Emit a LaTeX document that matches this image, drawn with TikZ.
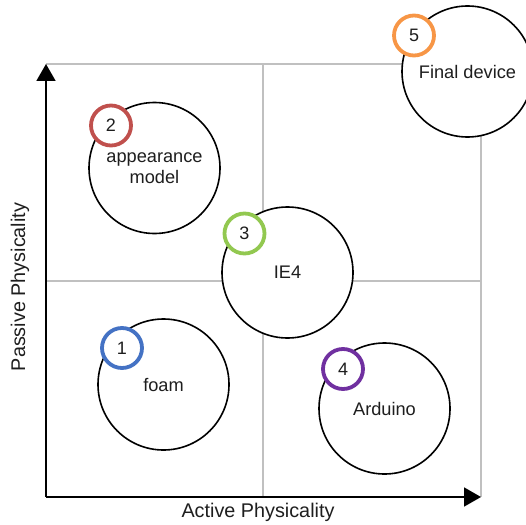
\documentclass[tikz,border=0pt]{standalone}
\usepackage{fontspec}
\setmainfont{Liberation Sans}
\usetikzlibrary{arrows.meta}
\definecolor{gridgray}{RGB}{192,192,192}
\definecolor{txt}{RGB}{30,30,30}
\definecolor{cblue}{RGB}{68,114,196}
\definecolor{cred}{RGB}{192,80,77}
\definecolor{cgreen}{RGB}{146,200,80}
\definecolor{cpurple}{RGB}{112,48,160}
\definecolor{corange}{RGB}{247,150,70}
\tikzset{
  bigc/.style={circle, draw=black, line width=1.6pt, fill=white, minimum size=131pt, inner sep=0pt, text=txt, font=\fontsize{18.2}{21}\selectfont, align=center},
  badge/.style={circle, draw=#1, line width=3.8pt, fill=white, minimum size=40pt, inner sep=0pt, text=txt, font=\fontsize{18}{20}\selectfont},
  gridln/.style={draw=gridgray, line width=1.5pt},
  axis/.style={draw=black, line width=1.8pt, -{Triangle[length=17pt,width=19pt]}},
  axlabel/.style={text=txt, font=\fontsize{19.8}{22}\selectfont, inner sep=0pt}
}
\begin{document}
\begin{tikzpicture}[x=1pt,y=-1pt]
\useasboundingbox (0,0) rectangle (526,524);
\coordinate (O) at (46,497);
\coordinate (Ytop) at (46,64);
\coordinate (Xend) at (481,497);
\coordinate (TR) at (481,64);
\coordinate (Mtop) at (263,64);
\coordinate (Mbot) at (263,497);
\coordinate (Mleft) at (46,281);
\coordinate (Mright) at (481,281);
% grid
\draw[gridln] (Ytop) -- (TR) -- (Xend);
\draw[gridln] (Mtop) -- (Mbot);
\draw[gridln] (Mleft) -- (Mright);
% axes
\draw[axis] (O) -- (Ytop);
\draw[axis] (O) -- (Xend);
\node[axlabel, rotate=90] (ylab) at (20,287) {Passive Physicality};
\node[axlabel] (xlab) at (258,512) {Active Physicality};
% big circles
\node[bigc] (c1) at (163.5,384.5) {foam};
\node[bigc] (c2) at (154.5,168) {appearance\\model};
\node[bigc] (c3) at (287.5,272.5) {IE4};
\node[bigc] (c4) at (384.5,408.5) {Arduino};
\node[bigc] (c5) at (467.5,71.5) {Final device};
% badges
\node[badge=cblue] (b1) at (122,348) {1};
\node[badge=cred] (b2) at (111,125.5) {2};
\node[badge=cgreen] (b3) at (244.5,233.5) {3};
\node[badge=cpurple] (b4) at (343,369) {4};
\node[badge=corange] (b5) at (414,35.5) {5};
\end{tikzpicture}
\end{document}
